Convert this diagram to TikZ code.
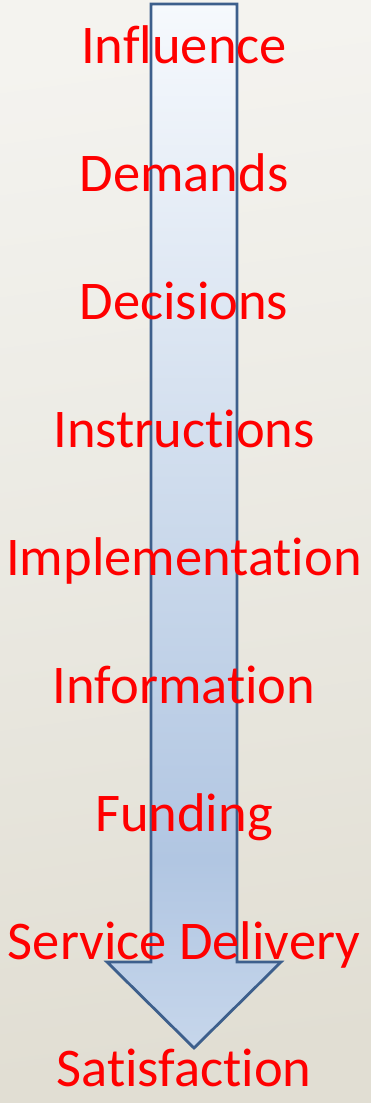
\documentclass[tikz,border=0pt]{standalone}
\usepackage{fontspec}
\setmainfont[Ligatures=NoCommon]{Carlito}
\definecolor{bgtop}{HTML}{F4F3EF}
\definecolor{bgmid}{HTML}{EEEDE7}
\definecolor{bgbot}{HTML}{E1DED3}
\definecolor{arrtop}{HTML}{F6F9FD}
\definecolor{arrmid}{HTML}{C8D7EA}
\definecolor{arrdeep}{HTML}{B1C6E2}
\definecolor{arrtip}{HTML}{C6D6EB}
\definecolor{arrline}{HTML}{3D5F8C}
\definecolor{labelred}{HTML}{FF0000}
% page background, light at the top and warmer towards the bottom
\pgfdeclareverticalshading{pagebg}{100bp}{%
  color(0bp)=(bgbot); color(25bp)=(bgbot); color(60bp)=(bgmid);
  color(75bp)=(bgtop); color(100bp)=(bgtop)}
% arrow body, pale at the top, deepest blue near the head
\pgfdeclareverticalshading{arrowfill}{100bp}{%
  color(0bp)=(arrtip); color(25bp)=(arrtip); color(34bp)=(arrdeep);
  color(48bp)=(arrmid); color(75bp)=(arrtop); color(100bp)=(arrtop)}
\tikzset{
  stagelabel/.style={text=labelred, font=\fontsize{54.5}{54.5}\selectfont,
    anchor=base, inner sep=0pt},
}
\begin{document}
\begin{tikzpicture}[x=1pt,y=-1pt]
  \useasboundingbox (0,0) rectangle (371,1103);
  \shade[shading=pagebg, shading angle=8] (0,0) rectangle (371,1103);
  % the downward arrow
  \shade[shading=arrowfill] (151,4) -- (237,4) -- (237,962) -- (281,962)
    -- (194,1048) -- (107,962) -- (151,962) -- cycle;
  \draw[arrline, line width=2.8pt, line join=miter]
    (151,4) -- (237,4) -- (237,962) -- (281,962)
    -- (194,1048) -- (107,962) -- (151,962) -- cycle;
  % stage labels
  \node[stagelabel] (influence) at (184,63) {Influence};
  \node[stagelabel] (demands) at (184,191) {Demands};
  \node[stagelabel] (decisions) at (184,319) {Decisions};
  \node[stagelabel] (instructions) at (184,447) {Instructions};
  \node[stagelabel] (implementation) at (184,575) {Implementation};
  \node[stagelabel] (information) at (184,703) {Information};
  \node[stagelabel] (funding) at (184,831) {Funding};
  \node[stagelabel] (service) at (184,959) {Service Delivery};
  \node[stagelabel] (satisfaction) at (184,1086) {Satisfaction};
\end{tikzpicture}
\end{document}
